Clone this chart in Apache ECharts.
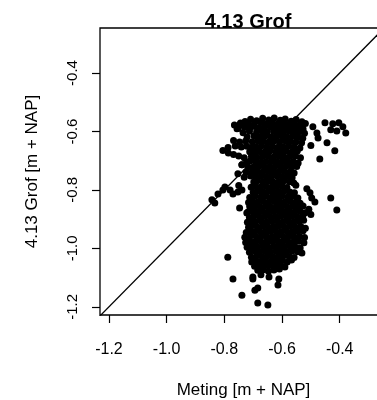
<!DOCTYPE html>
<html>
<head>
<meta charset="utf-8">
<script src="https://cdn.jsdelivr.net/npm/echarts@6/dist/echarts.min.js"></script>
<style>
  html, body { margin: 0; padding: 0; background: #fff; }
  #chart { width: 377px; height: 400px; }
</style>
</head>
<body>
<div id="chart"></div>
<script>
// [meting, grof] in m + NAP
const bovenWolk = [
  [-0.728,-0.566],[-0.709,-0.558],[-0.688,-0.563],[-0.667,-0.555],[-0.646,-0.561],[-0.627,-0.554],[-0.606,-0.562],[-0.589,-0.557],[-0.568,-0.565],[-0.551,-0.559],[-0.531,-0.567],
  [-0.765,-0.578],[-0.744,-0.571],[-0.716,-0.574],[-0.695,-0.571],[-0.673,-0.569],[-0.654,-0.574],[-0.634,-0.570],[-0.614,-0.573],[-0.595,-0.571],[-0.576,-0.575],[-0.557,-0.571],[-0.537,-0.576],[-0.519,-0.573],
  [-0.752,-0.590],[-0.730,-0.586],[-0.711,-0.588],[-0.699,-0.582],[-0.679,-0.587],[-0.660,-0.584],[-0.640,-0.586],[-0.621,-0.588],[-0.603,-0.584],[-0.582,-0.587],[-0.564,-0.584],[-0.545,-0.588],[-0.527,-0.592],
  [-0.735,-0.604],[-0.713,-0.599],[-0.688,-0.601],[-0.669,-0.599],[-0.651,-0.602],[-0.629,-0.600],[-0.612,-0.598],[-0.594,-0.601],[-0.575,-0.599],[-0.555,-0.602],[-0.536,-0.600],[-0.522,-0.606],
  [-0.721,-0.619],[-0.697,-0.615],[-0.677,-0.618],[-0.659,-0.616],[-0.638,-0.619],[-0.619,-0.617],[-0.601,-0.615],[-0.583,-0.618],[-0.563,-0.616],[-0.545,-0.619],[-0.528,-0.623],
  [-0.768,-0.631],[-0.747,-0.636],[-0.726,-0.633],[-0.703,-0.635],[-0.684,-0.632],[-0.665,-0.634],[-0.646,-0.636],[-0.627,-0.633],[-0.608,-0.635],[-0.589,-0.632],[-0.571,-0.634],[-0.552,-0.636],[-0.532,-0.639],
  [-0.787,-0.655],[-0.762,-0.650],[-0.741,-0.653],[-0.722,-0.651],[-0.703,-0.654],[-0.691,-0.652],[-0.672,-0.650],[-0.653,-0.653],[-0.633,-0.651],[-0.614,-0.654],[-0.596,-0.652],[-0.577,-0.650],[-0.558,-0.653],[-0.538,-0.657],
  [-0.805,-0.665],[-0.786,-0.674],[-0.768,-0.679],[-0.750,-0.684],[-0.712,-0.669],[-0.693,-0.671],[-0.679,-0.668],[-0.660,-0.670],[-0.642,-0.667],[-0.622,-0.669],[-0.603,-0.671],[-0.585,-0.668],[-0.566,-0.670],[-0.547,-0.667],
  [-0.731,-0.690],[-0.706,-0.685],[-0.687,-0.688],[-0.667,-0.686],[-0.648,-0.684],[-0.629,-0.687],[-0.610,-0.685],[-0.592,-0.688],[-0.573,-0.686],[-0.553,-0.684],[-0.536,-0.690],
  [-0.723,-0.706],[-0.711,-0.701],[-0.692,-0.702],[-0.673,-0.705],[-0.655,-0.703],[-0.636,-0.701],[-0.617,-0.704],[-0.598,-0.702],[-0.579,-0.705],[-0.561,-0.703],[-0.544,-0.708],
  [-0.739,-0.714],[-0.718,-0.722],[-0.698,-0.721],[-0.680,-0.719],[-0.661,-0.722],[-0.642,-0.720],[-0.623,-0.718],[-0.604,-0.721],[-0.586,-0.719],[-0.567,-0.722],[-0.549,-0.720],
  [-0.753,-0.745],[-0.725,-0.739],[-0.703,-0.738],[-0.685,-0.736],[-0.667,-0.739],[-0.648,-0.737],[-0.629,-0.735],[-0.611,-0.738],[-0.592,-0.736],[-0.573,-0.739],[-0.558,-0.742],
  [-0.731,-0.757],[-0.709,-0.752],[-0.691,-0.755],[-0.673,-0.753],[-0.654,-0.756],[-0.636,-0.754],[-0.617,-0.752],[-0.598,-0.755],[-0.580,-0.753],[-0.565,-0.758],
  [-0.698,-0.773],[-0.686,-0.769],[-0.667,-0.772],[-0.648,-0.770],[-0.630,-0.773],[-0.611,-0.771],[-0.593,-0.769],[-0.574,-0.772],[-0.559,-0.776],
  [-0.707,-0.791],[-0.692,-0.787],[-0.674,-0.790],[-0.655,-0.788],[-0.637,-0.791],[-0.618,-0.789],[-0.600,-0.787],[-0.583,-0.792],[-0.552,-0.784]
];

const onderWolk = [
  [-0.700,-0.808],[-0.684,-0.804],[-0.666,-0.807],[-0.647,-0.805],[-0.629,-0.808],[-0.610,-0.806],[-0.592,-0.804],[-0.573,-0.807],[-0.557,-0.810],
  [-0.712,-0.826],[-0.693,-0.821],[-0.674,-0.824],[-0.655,-0.822],[-0.637,-0.825],[-0.618,-0.823],[-0.600,-0.821],[-0.581,-0.824],[-0.562,-0.822],[-0.545,-0.828],
  [-0.716,-0.843],[-0.703,-0.838],[-0.685,-0.841],[-0.666,-0.839],[-0.647,-0.842],[-0.628,-0.840],[-0.609,-0.838],[-0.591,-0.841],[-0.572,-0.839],[-0.553,-0.842],[-0.537,-0.846],
  [-0.712,-0.857],[-0.694,-0.855],[-0.676,-0.858],[-0.657,-0.856],[-0.638,-0.859],[-0.619,-0.857],[-0.601,-0.855],[-0.582,-0.858],[-0.563,-0.856],[-0.545,-0.859],[-0.527,-0.855],[-0.507,-0.866],
  [-0.718,-0.876],[-0.702,-0.872],[-0.686,-0.875],[-0.667,-0.873],[-0.649,-0.876],[-0.630,-0.874],[-0.611,-0.872],[-0.593,-0.875],[-0.574,-0.873],[-0.556,-0.876],[-0.537,-0.874],[-0.519,-0.878],[-0.500,-0.884],
  [-0.713,-0.894],[-0.697,-0.889],[-0.678,-0.892],[-0.659,-0.890],[-0.640,-0.893],[-0.622,-0.891],[-0.603,-0.889],[-0.584,-0.892],[-0.566,-0.890],[-0.547,-0.893],[-0.528,-0.891],
  [-0.720,-0.911],[-0.705,-0.906],[-0.692,-0.909],[-0.672,-0.907],[-0.654,-0.910],[-0.635,-0.908],[-0.616,-0.906],[-0.597,-0.909],[-0.578,-0.907],[-0.560,-0.910],[-0.541,-0.908],[-0.525,-0.904],
  [-0.716,-0.928],[-0.705,-0.923],[-0.686,-0.926],[-0.667,-0.924],[-0.648,-0.927],[-0.629,-0.925],[-0.610,-0.923],[-0.592,-0.926],[-0.573,-0.924],[-0.554,-0.927],[-0.535,-0.925],[-0.519,-0.931],
  [-0.724,-0.946],[-0.711,-0.940],[-0.697,-0.943],[-0.678,-0.941],[-0.659,-0.944],[-0.640,-0.942],[-0.622,-0.940],[-0.603,-0.943],[-0.584,-0.941],[-0.565,-0.944],[-0.546,-0.942],[-0.527,-0.940],
  [-0.729,-0.962],[-0.708,-0.957],[-0.689,-0.960],[-0.671,-0.958],[-0.652,-0.961],[-0.633,-0.959],[-0.614,-0.957],[-0.595,-0.960],[-0.577,-0.958],[-0.558,-0.961],[-0.539,-0.959],[-0.522,-0.963],
  [-0.726,-0.980],[-0.712,-0.974],[-0.693,-0.977],[-0.674,-0.975],[-0.655,-0.978],[-0.636,-0.976],[-0.617,-0.974],[-0.599,-0.977],[-0.580,-0.975],[-0.561,-0.978],[-0.542,-0.976],[-0.524,-0.981],
  [-0.721,-0.996],[-0.705,-0.991],[-0.686,-0.994],[-0.667,-0.992],[-0.648,-0.995],[-0.629,-0.993],[-0.611,-0.991],[-0.592,-0.994],[-0.573,-0.992],[-0.554,-0.995],[-0.537,-0.999],
  [-0.713,-1.013],[-0.697,-1.008],[-0.678,-1.011],[-0.659,-1.009],[-0.640,-1.012],[-0.621,-1.010],[-0.603,-1.008],[-0.584,-1.011],[-0.565,-1.009],[-0.546,-1.012],[-0.531,-1.016],
  [-0.706,-1.030],[-0.688,-1.025],[-0.669,-1.028],[-0.650,-1.026],[-0.632,-1.029],[-0.613,-1.027],[-0.594,-1.025],[-0.575,-1.028],[-0.558,-1.031],
  [-0.705,-1.047],[-0.690,-1.042],[-0.675,-1.045],[-0.656,-1.043],[-0.637,-1.046],[-0.618,-1.044],[-0.600,-1.042],[-0.582,-1.047],[-0.567,-1.040],
  [-0.695,-1.061],[-0.681,-1.058],[-0.662,-1.061],[-0.643,-1.059],[-0.624,-1.062],[-0.606,-1.060],[-0.590,-1.064],
  [-0.684,-1.075],[-0.665,-1.073],[-0.647,-1.078],[-0.628,-1.074],[-0.609,-1.071]
];

const verspreid = [
  // rechtsboven
  [-0.451,-0.570],[-0.424,-0.574],[-0.403,-0.570],[-0.389,-0.584],[-0.379,-0.605],[-0.431,-0.594],[-0.410,-0.598],
  [-0.493,-0.584],[-0.479,-0.605],[-0.475,-0.622],[-0.444,-0.639],[-0.417,-0.666],[-0.469,-0.694],[-0.500,-0.648],
  // links en langs de diagonaal
  [-0.756,-0.591],[-0.746,-0.577],[-0.739,-0.714],
  [-0.843,-0.834],[-0.822,-0.814],[-0.805,-0.800],[-0.798,-0.790],[-0.770,-0.814],[-0.753,-0.807],[-0.739,-0.800],
  [-0.833,-0.845],[-0.780,-0.800],[-0.750,-0.785],[-0.747,-0.862],[-0.722,-0.879],
  // rechts van onderste wolk
  [-0.431,-0.828],[-0.410,-0.869],[-0.497,-0.828],[-0.486,-0.841],[-0.503,-0.810],[-0.514,-0.796],
  // staart onder
  [-0.788,-1.030],[-0.770,-1.105],[-0.701,-1.105],[-0.673,-1.090],[-0.645,-1.098],[-0.611,-1.105],[-0.614,-1.125],
  [-0.694,-1.143],[-0.684,-1.136],[-0.739,-1.160],[-0.684,-1.187],[-0.649,-1.194],[-0.701,-1.098]
];

const xRange = [-1.231, -0.236];
const yRange = [-1.228, -0.246];
const ticks = [-1.2, -1.0, -0.8, -0.6, -0.4];
const lijn = [[-1.3, -1.3], [0, 0]];   // y = x

const font = '"Liberation Sans", Arial, sans-serif';

const chart = echarts.init(document.getElementById('chart'));

const axisCommon = {
  type: 'value',
  splitLine: { show: false },
  axisLine: { show: false },
  axisTick: {
    show: true,
    customValues: ticks,
    length: 8,
    lineStyle: { color: '#000', width: 1.2 }
  },
  axisLabel: {
    customValues: ticks,
    color: '#000',
    fontFamily: font,
    fontSize: 15,
    formatter: v => v.toFixed(1)
  },
  nameLocation: 'middle'
};

chart.setOption({
  animation: false,
  title: {
    text: '4.13 Grof',
    left: 243,
    textAlign: 'center',
    top: 7,
    textStyle: { fontFamily: font, fontSize: 20, fontWeight: 'bold', color: '#000' }
  },
  grid: {
    left: 100, right: -10, top: 28, bottom: 85,
    outerBoundsMode: 'none',
    show: true,
    borderColor: '#000',
    borderWidth: 1.3
  },
  xAxis: Object.assign({}, axisCommon, {
    min: xRange[0], max: xRange[1],
    name: 'Meting [m + NAP]',
    nameGap: 67,
    nameTextStyle: { color: '#000', fontFamily: font, fontSize: 17 },
    axisLabel: Object.assign({}, axisCommon.axisLabel, { fontSize: 16, margin: 27 })
  }),
  yAxis: Object.assign({}, axisCommon, {
    min: yRange[0], max: yRange[1],
    name: '4.13 Grof [m + NAP]',
    nameGap: 59,
    nameTextStyle: { color: '#000', fontFamily: font, fontSize: 17 },
    axisLabel: Object.assign({}, axisCommon.axisLabel, { rotate: 90, margin: 20 })
  }),
  series: [
    {
      type: 'line',
      data: lijn,
      symbol: 'none',
      clip: true,
      silent: true,
      lineStyle: { color: '#000', width: 1.3 }
    },
    {
      type: 'scatter',
      data: bovenWolk.concat(onderWolk, verspreid),
      symbol: 'circle',
      symbolSize: 7,
      itemStyle: { color: '#000', opacity: 1 },
      silent: true
    }
  ]
});
</script>
</body>
</html>
